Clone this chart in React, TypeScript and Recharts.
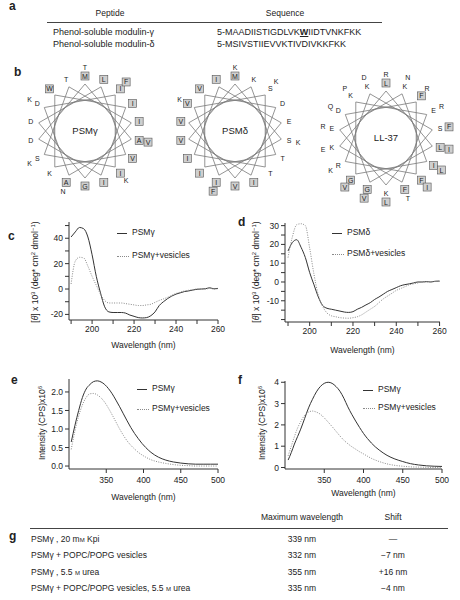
import React from 'react';
import { LineChart, Line, XAxis, YAxis, ScatterChart, Scatter } from 'recharts';

const FONT = '"Liberation Sans", Arial, Helvetica, sans-serif';

// panel a
const peptideNames = ['Phenol-soluble modulin-γ', 'Phenol-soluble modulin-δ'];
const peptideSeqs = ['5-MAADIISTIGDLVKWIIDTVNKFKK', '5-MSIVSTIIEVVKTIVDIVKKFKK'];

// panel b
const wheelNames = ['PSMγ', 'PSMδ', 'LL-37'];
const wheelSeqs = ['MAADIISTIGDLVKWIIDTVNKFKK', 'MSIVSTIIEVVKTIVDIVKKFKK', 'LLGDFFRKSKEKIGKEFKRIVQRIKDFLRNLVPRTE'];
const hydrophobic = 'AILMFVWG';

// panel c (CD, PSMγ)
const cdWlC = [190, 192, 194, 196, 198, 200, 202, 204, 206, 208, 210, 212, 214, 216, 218, 220, 222, 224, 226, 228, 230, 232, 234, 236, 238, 240, 242, 244, 246, 248, 250, 252, 254, 256, 258, 260];
const cdPsmg = [41, 45, 48.5, 47.5, 41, 27, 10, -3, -14, -18, -18.5, -18.5, -18.5, -19, -20.5, -21.5, -22.5, -22.8, -22.5, -21, -18, -13, -10, -7.5, -5.5, -4, -3, -2, -1.5, -0.8, -0.2, 0, 0.2, 1, 0.2, 0.5];
const cdPsmgVes = [4, 22, 25, 24.5, 18, 10, 3, -4, -9, -11, -11, -11, -11, -11.5, -12, -12.5, -13, -13, -12.5, -12, -10.5, -9, -7.8, -6.5, -5, -3.5, -2.5, -1.5, -1, -0.5, 0, 0, 0, 0.5, 0, 0.3];

// panel d (CD, PSMδ)
const cdWlD = [190, 192, 194, 196, 198, 200, 202, 204, 206, 208, 210, 212, 214, 216, 218, 220, 222, 224, 226, 228, 230, 232, 234, 236, 238, 240, 242, 244, 246, 248, 250, 252, 254, 256, 258, 260];
const cdPsmd = [16.5, 21, 22.5, 18.5, 13, 5, -1.5, -8, -12.5, -14, -14.5, -15, -15.5, -16, -16.2, -15.8, -14.5, -13.5, -12.2, -11, -9.3, -8, -6.5, -5, -4, -3, -2, -1.4, -1, -0.5, 0, 0, 0.2, 0, 0.4, 0.5];
const cdPsmdVes = [13, 24, 30.5, 31, 30, 18, 4, -7, -13, -16.5, -18, -18.5, -19, -19.2, -19.3, -19, -18.5, -17.5, -16, -14.5, -13, -11, -9, -7.5, -6, -4.5, -3.5, -2.5, -1.5, -1, -0.5, 0, 0, 0.2, 0.3, 0.3];

// panel e (fluorescence, PSMγ)
const flWlE = [303, 308, 313, 318, 323, 328, 333, 338, 343, 348, 353, 358, 363, 368, 373, 378, 383, 388, 393, 398, 403, 410, 420, 430, 440, 450, 460, 470, 480, 490, 500];
const flPsmgE = [0.65, 1.1, 1.5, 1.85, 2.08, 2.2, 2.28, 2.3, 2.27, 2.2, 2.09, 1.95, 1.78, 1.6, 1.41, 1.22, 1.04, 0.88, 0.74, 0.61, 0.5, 0.37, 0.24, 0.16, 0.11, 0.08, 0.06, 0.05, 0.05, 0.05, 0.05];
const flPsmgVesE = [0.45, 0.95, 1.35, 1.65, 1.85, 1.95, 1.96, 1.92, 1.84, 1.72, 1.56, 1.38, 1.19, 1.0, 0.83, 0.68, 0.56, 0.46, 0.37, 0.3, 0.24, 0.17, 0.11, 0.07, 0.04, 0.02, 0.01, 0, 0, 0, 0];

// panel f (fluorescence, PSMγ in urea)
const flWlF = [304, 308, 312, 316, 320, 325, 330, 335, 340, 345, 350, 355, 360, 365, 370, 375, 380, 385, 390, 395, 400, 405, 410, 415, 420, 430, 440, 450, 460, 470, 480, 490, 500];
const flPsmgF = [0.35, 0.7, 1.1, 1.45, 1.8, 2.3, 2.8, 3.2, 3.55, 3.8, 3.95, 4.0, 3.95, 3.8, 3.58, 3.25, 2.85, 2.5, 2.18, 1.88, 1.6, 1.36, 1.15, 0.97, 0.82, 0.57, 0.4, 0.28, 0.18, 0.12, 0.08, 0.06, 0.05];
const flPsmgVesF = [0.55, 1.0, 1.45, 1.85, 2.15, 2.45, 2.6, 2.65, 2.6, 2.5, 2.33, 2.13, 1.92, 1.7, 1.48, 1.28, 1.12, 0.98, 0.86, 0.74, 0.64, 0.53, 0.43, 0.35, 0.28, 0.17, 0.1, 0.06, 0.03, 0.02, 0.01, 0, 0];

// panel g
const conditions = ['PSMγ , 20 mM Kpi', 'PSMγ + POPC/POPG vesicles', 'PSMγ , 5.5 M urea', 'PSMγ + POPC/POPG vesicles, 5.5 M urea'];
const maxWavelengths = ['339 nm', '332 nm', '355 nm', '335 nm'];
const shifts = ['—', '−7 nm', '+16 nm', '−4 nm'];

const toRows = (wl: number[], a: number[], b: number[]) => wl.map((w, i) => ({ wl: w, solid: a[i], dotted: b[i] }));

// helical wheel geometry: 100 deg per residue, 18 positions per ring
const buildWheel = (seq: string) =>
  seq.split('').map((aa, i) => {
    const ang = (i * 100 * Math.PI) / 180;
    const r = i < 18 ? 55 : 64;
    return { aa, x: r * Math.sin(ang), y: r * Math.cos(ang), box: hydrophobic.includes(aa) };
  });
const buildStar = () =>
  Array.from({ length: 19 }, (_, i) => {
    const ang = (i * 100 * Math.PI) / 180;
    return { x: 47 * Math.sin(ang), y: 47 * Math.cos(ang) };
  });

const Residue = (props: any) => {
  const { cx, cy, payload } = props;
  return (
    <g>
      {payload.box && <rect x={cx - 4} y={cy - 4} width={8} height={8} fill="#cfcfcf" stroke="#555" strokeWidth={0.6} />}
      <text x={cx} y={cy} dy="0.36em" textAnchor="middle" fontSize={7} fill="#222" fontFamily={FONT}>{payload.aa}</text>
    </g>
  );
};

const Wheel = ({ name, seq, left, top }: any) => {
  const centerShape = (p: any) => (
    <g>
      <circle cx={p.cx} cy={p.cy} r={31} fill="none" stroke="#7a7a7a" strokeWidth={0.8} />
      <text x={p.cx} y={p.cy} dy="0.36em" textAnchor="middle" fontSize={9.5} fill="#222" fontFamily={FONT}>{name}</text>
    </g>
  );
  return (
    <div style={{ position: 'absolute', left, top }}>
      <ScatterChart width={170} height={170} margin={{ top: 0, right: 0, bottom: 0, left: 0 }}>
        <XAxis type="number" dataKey="x" domain={[-85, 85]} hide />
        <YAxis type="number" dataKey="y" domain={[-85, 85]} hide />
        <Scatter data={buildStar()} line={{ stroke: '#7a7a7a', strokeWidth: 0.8 }} shape={() => <g />} isAnimationActive={false} />
        <Scatter data={[{ x: 0, y: 0 }]} shape={centerShape} isAnimationActive={false} />
        <Scatter data={buildWheel(seq)} shape={Residue} isAnimationActive={false} />
      </ScatterChart>
    </div>
  );
};

const xTick = (major: number[], dy: number) => (p: any) =>
  major.includes(p.payload.value) ? (
    <text x={p.x} y={p.y + dy} dy="0.71em" textAnchor="middle" fontSize={8.5} fill="#222" fontFamily={FONT}>{p.payload.value}</text>
  ) : <g />;
const yTick = (major: number[], fmt: (v: number) => string) => (p: any) =>
  major.includes(p.payload.value) ? (
    <text x={p.x} y={p.y} dy="0.36em" textAnchor="end" fontSize={8.5} fill="#222" fontFamily={FONT}>{fmt(p.payload.value)}</text>
  ) : <g />;

const SpecChart = (props: any) => {
  const { left, top, width, height, margin, xh, data, xDomain, xTicks, xMajor, yDomain, yTicks, yMajor, fmt, tickDy = 0 } = props;
  return (
    <div style={{ position: 'absolute', left, top }}>
      <LineChart width={width} height={height} data={data} margin={margin}>
        <XAxis dataKey="wl" type="number" domain={xDomain} ticks={xTicks} interval={0} allowDataOverflow height={xh}
          stroke="#333" tickSize={4} tick={xTick(xMajor, tickDy)}
          label={{ value: 'Wavelength (nm)', position: 'insideBottom', offset: 0, fontSize: 8.5, fill: '#222', fontFamily: FONT }} />
        <YAxis type="number" domain={yDomain} ticks={yTicks} interval={0} allowDataOverflow width={30}
          stroke="#333" tickSize={4} tick={yTick(yMajor, fmt)} />
        <Line dataKey="solid" type="monotone" stroke="#333" strokeWidth={1} dot={false} isAnimationActive={false} />
        <Line dataKey="dotted" type="monotone" stroke="#8a8a8a" strokeWidth={1} strokeDasharray="1 1.4" dot={false} isAnimationActive={false} />
      </LineChart>
    </div>
  );
};

const Legend2 = ({ left, top1, top2, labels }: any) => (
  <>
    <div style={{ position: 'absolute', left, top: top1, width: 10, borderTop: '1px solid #333' }} />
    <div style={{ position: 'absolute', left: left + 15, top: top1 - 6, fontSize: 8.5 }}>{labels[0]}</div>
    <div style={{ position: 'absolute', left, top: top2, width: 12, borderTop: '1px dotted #8a8a8a' }} />
    <div style={{ position: 'absolute', left: left + 15, top: top2 - 6, fontSize: 8.5 }}>{labels[1]}</div>
  </>
);

const YTitle = ({ x, y, children }: any) => (
  <div style={{ position: 'absolute', left: x, top: y, transform: 'translate(-50%, -50%) rotate(-90deg)', whiteSpace: 'nowrap', fontSize: 8.5 }}>
    {children}
  </div>
);

const PanelLabel = ({ x, y, t }: any) => (
  <div style={{ position: 'absolute', left: x - 4, top: y - 8, fontSize: 12, fontWeight: 'bold' }}>{t}</div>
);

// molar "M" is set in small capitals
const smallCaps = (s: string) =>
  s.split(/(?<=[ m])M(?= )/).flatMap((p, i) =>
    i === 0 ? [<span key={i}>{p}</span>] : [<span key={'m' + i} style={{ fontSize: 6 }}>M</span>, <span key={i}>{p}</span>]
  );

export default function App() {
  const cdTicks = [190, 200, 210, 220, 230, 240, 250, 260];
  const cdMajor = [200, 220, 240, 260];
  const flTicks = [350, 400, 450, 500];
  const sup = { fontSize: 6 };
  return (
    <div style={{ position: 'relative', width: 460, height: 600, background: '#fff', fontFamily: FONT, color: '#222', overflow: 'hidden' }}>
      <style>{'body{margin:0}'}</style>

      {/* a */}
      <PanelLabel x={13} y={7} t="a" />
      <div style={{ position: 'absolute', left: 110, top: 8, fontSize: 8.5, transform: 'translateX(-50%)' }}>Peptide</div>
      <div style={{ position: 'absolute', left: 285, top: 8, fontSize: 8.5, transform: 'translateX(-50%)' }}>Sequence</div>
      <div style={{ position: 'absolute', left: 47, top: 22, width: 335, borderTop: '1px solid #444' }} />
      {peptideNames.map((n, i) => (
        <div key={n} style={{ position: 'absolute', left: 53, top: 27 + i * 12, fontSize: 9 }}>{n}</div>
      ))}
      {peptideSeqs.map((s, i) => (
        <div key={s} style={{ position: 'absolute', left: 217, top: 27 + i * 12, fontSize: 9 }}>
          {s.includes('W') ? (
            <>{s.split('W')[0]}<span style={{ fontWeight: 'bold', textDecoration: 'underline' }}>W</span>{s.split('W')[1]}</>
          ) : s}
        </div>
      ))}

      {/* b */}
      <PanelLabel x={18} y={73} t="b" />
      <Wheel name={wheelNames[0]} seq={wheelSeqs[0]} left={0} top={46} />
      <Wheel name={wheelNames[1]} seq={wheelSeqs[1]} left={150} top={46} />
      <Wheel name={wheelNames[2]} seq={wheelSeqs[2]} left={301} top={53} />

      {/* c */}
      <PanelLabel x={12} y={237} t="c" />
      <SpecChart left={10} top={200} width={222} height={150} margin={{ top: 22, right: 14, bottom: 2, left: 29 }} xh={28}
        data={toRows(cdWlC, cdPsmg, cdPsmgVes)} xDomain={[189, 260]} xTicks={cdTicks} xMajor={cdMajor}
        yDomain={[-24.4, 52.8]} yTicks={[-20, -10, 0, 10, 20, 30, 40, 50]} yMajor={[-20, 0, 20, 40]} fmt={(v: number) => String(v)} />
      <Legend2 left={117} top1={233} top2={256} labels={['PSMγ', 'PSMγ+vesicles']} />
      <YTitle x={35} y={272}>[<i>θ</i>] x 10<sup style={sup}>3</sup> (deg* cm<sup style={sup}>2</sup> dmol<sup style={sup}>−1</sup>)</YTitle>

      {/* d */}
      <PanelLabel x={242} y={223} t="d" />
      <SpecChart left={232} top={200} width={222} height={155} margin={{ top: 23, right: 14, bottom: 2, left: 23 }} xh={31}
        data={toRows(cdWlD, cdPsmd, cdPsmdVes)} xDomain={[188.6, 260.2]} xTicks={cdTicks} xMajor={cdMajor}
        yDomain={[-21.3, 31.4]} yTicks={[-20, -15, -10, -5, 0, 5, 10, 15, 20, 25, 30]} yMajor={[-10, 0, 10, 20, 30]} fmt={(v: number) => String(v)} />
      <Legend2 left={332} top1={233} top2={254} labels={['PSMδ', 'PSMδ+vesicles']} />
      <YTitle x={256} y={272}>[<i>θ</i>] x 10<sup style={sup}>3</sup> (deg* cm<sup style={sup}>2</sup> dmol<sup style={sup}>−1</sup>)</YTitle>

      {/* e */}
      <PanelLabel x={15} y={381} t="e" />
      <SpecChart left={10} top={365} width={222} height={137} margin={{ top: 14, right: 14, bottom: 2, left: 29 }} xh={31} tickDy={2}
        data={toRows(flWlE, flPsmgE, flPsmgVesE)} xDomain={[300, 500]} xTicks={flTicks} xMajor={flTicks}
        yDomain={[-0.08, 2.35]} yTicks={[0, 0.5, 1, 1.5, 2]} yMajor={[0, 0.5, 1, 1.5, 2]} fmt={(v: number) => v.toFixed(1)} />
      <Legend2 left={137} top1={389} top2={409} labels={['PSMγ', 'PSMγ+vesicles']} />
      <YTitle x={42} y={423}>Intensity (CPS)x10<sup style={sup}>6</sup></YTitle>

      {/* f */}
      <PanelLabel x={242} y={381} t="f" />
      <SpecChart left={232} top={365} width={224} height={133} margin={{ top: 16, right: 14, bottom: 2, left: 23 }} xh={27} tickDy={2}
        data={toRows(flWlF, flPsmgF, flPsmgVesF)} xDomain={[300, 500]} xTicks={flTicks} xMajor={flTicks}
        yDomain={[-0.07, 4.06]} yTicks={[0, 1, 2, 3, 4]} yMajor={[0, 1, 2, 3, 4]} fmt={(v: number) => String(v)} />
      <Legend2 left={363} top1={390} top2={408} labels={['PSMγ', 'PSMγ+vesicles']} />
      <YTitle x={262} y={423}>Intensity (CPS)x10<sup style={sup}>6</sup></YTitle>

      {/* g */}
      <PanelLabel x={13} y={537} t="g" />
      <div style={{ position: 'absolute', left: 302, top: 512, fontSize: 8.5, transform: 'translateX(-50%)', whiteSpace: 'nowrap' }}>Maximum wavelength</div>
      <div style={{ position: 'absolute', left: 393, top: 512, fontSize: 8.5, transform: 'translateX(-50%)' }}>Shift</div>
      <div style={{ position: 'absolute', left: 30, top: 528, width: 418, borderTop: '1px solid #444' }} />
      {conditions.map((c, i) => (
        <React.Fragment key={c}>
          <div style={{ position: 'absolute', left: 31, top: 534 + i * 16.3, fontSize: 8.5, whiteSpace: 'nowrap' }}>{smallCaps(c)}</div>
          <div style={{ position: 'absolute', left: 302, top: 534 + i * 16.3, fontSize: 8.5, transform: 'translateX(-50%)', whiteSpace: 'nowrap' }}>{maxWavelengths[i]}</div>
          <div style={{ position: 'absolute', left: 393, top: 534 + i * 16.3, fontSize: 8.5, transform: 'translateX(-50%)', whiteSpace: 'nowrap' }}>{shifts[i]}</div>
        </React.Fragment>
      ))}
    </div>
  );
}
